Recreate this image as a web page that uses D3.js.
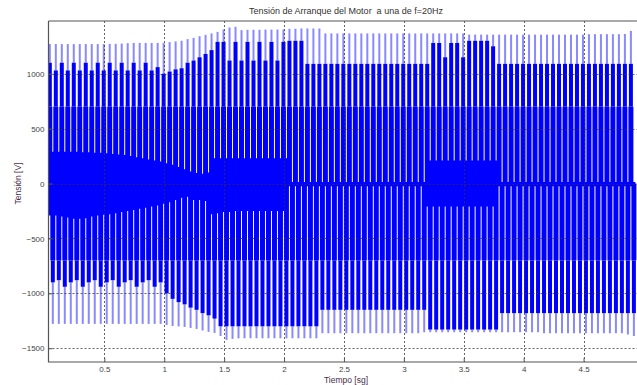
<!DOCTYPE html>
<html><head><meta charset="utf-8">
<script src="https://cdn.jsdelivr.net/npm/d3@7"></script>
<style>body{margin:0;background:#fff;}svg{display:block;font-family:"Liberation Sans",Arial,sans-serif;}</style>
</head><body>
<svg id="c" width="637" height="385"></svg>
<script>
const titleText = "Tensión de Arranque del Motor  a una de f=20Hz";
const xLabel = "Tiempo [sg]";
const yLabel = "Tensión [V]";
const xTicks = [0.5, 1, 1.5, 2, 2.5, 3, 3.5, 4, 4.5];
const yTicks = [-1500, -1000, -500, 0, 500, 1000];
const fundamentalHz = 20;
const firstPulse = 0.045;

// positive peak per fundamental period (V)
const upperPeak = [1270,1270,1270,1270,1270,1270,1270,1270,1270,1270,1272,1272,1275,1278,1280,1280,1280,1280,1280,1281,
  1288,1294,1300,1315,1327,1342,1354,1367,1381,1403,1421,1427,1397,1400,1400,1400,1402,1402,1402,1403,
  1409,1409,1412,1412,1412,1412,1367,1367,1367,1367,1367,1367,1367,1367,1367,1367,1367,1367,1367,1367,
  1367,1367,1367,1367,1367,1367,1367,1367,1367,1367,1356,1356,1356,1356,1356,1356,1356,1356,1356,1356,
  1356,1356,1356,1356,1356,1356,1356,1356,1356,1356,1360,1360,1360,1360,1360,1360,1362,1390];
// negative peak per fundamental period (V)
const lowerPeak = [-1278,-1278,-1278,-1278,-1278,-1278,-1278,-1278,-1278,-1278,-1278,-1278,-1278,-1278,-1278,-1278,-1278,-1278,-1278,-1288,
  -1297,-1301,-1306,-1315,-1324,-1338,-1351,-1360,-1388,-1424,-1415,-1410,-1409,-1409,-1409,-1409,-1409,-1409,-1409,-1409,
  -1409,-1409,-1409,-1409,-1409,-1363,-1363,-1363,-1363,-1363,-1363,-1363,-1363,-1363,-1363,-1363,-1363,-1363,-1363,-1363,
  -1363,-1363,-1354,-1354,-1354,-1354,-1354,-1354,-1354,-1354,-1354,-1354,-1354,-1354,-1354,-1354,-1354,-1354,-1354,-1354,
  -1354,-1354,-1363,-1363,-1363,-1363,-1363,-1363,-1363,-1363,-1363,-1363,-1363,-1363,-1363,-1363,-1375,-1388];
// level reached by the dense (dark) part of each positive pulse
const upperDark = [1100,1030,1100,1030,1100,1030,1100,1030,1100,1030,1100,1030,1100,1030,1100,1030,1100,1030,1060,1000,
  1020,1040,1050,1100,1120,1150,1180,1215,1290,1290,1120,1290,1120,1290,1120,1290,1120,1290,1120,1290,
  1300,1300,1300,1090,1090,1090,1090,1090,1090,1090,1090,1090,1090,1090,1090,1090,1090,1090,1090,1090,
  1090,1090,1090,1090,1280,1280,1150,1280,1280,1150,1300,1300,1300,1300,1250,1090,1090,1090,1090,1090,
  1090,1090,1090,1090,1090,1090,1090,1090,1090,1090,1090,1090,1090,1090,1090,1090,1090,1090];
const lowerDark = [-900,-880,-940,-900,-880,-940,-900,-880,-940,-900,-880,-940,-900,-880,-940,-900,-880,-940,-900,-1000,
  -1050,-1080,-1100,-1130,-1150,-1180,-1200,-1230,-1300,-1300,-1300,-1300,-1300,-1300,-1300,-1300,-1300,-1300,-1300,-1300,
  -1300,-1300,-1300,-1300,-1300,-1150,-1150,-1150,-1150,-1150,-1150,-1150,-1150,-1150,-1150,-1150,-1150,-1150,-1150,-1150,
  -1150,-1150,-1150,-1330,-1330,-1330,-1330,-1330,-1330,-1330,-1330,-1330,-1330,-1330,-1330,-1180,-1180,-1180,-1180,-1180,
  -1180,-1180,-1180,-1180,-1180,-1180,-1180,-1180,-1180,-1180,-1180,-1180,-1180,-1180,-1180,-1180,-1180,-1180];
// solid core band around zero
const coreTop = [290,290,290,290,290,285,285,280,280,275,270,265,260,250,240,230,220,210,200,185,
  170,150,130,110,95,90,100,230,230,230,230,230,230,230,230,230,230,230,230,230,
  15,15,15,15,15,15,15,15,15,15,15,15,15,15,15,15,15,15,15,15,
  15,15,15,210,210,210,210,210,210,210,210,210,210,210,210,15,15,15,15,15,
  15,15,15,15,15,15,15,15,15,15,15,15,15,15,15,15,15,15];
const coreBottom = [-290,-290,-300,-310,-320,-320,-315,-300,-290,-285,-280,-270,-260,-250,-240,-230,-220,-210,-200,-185,
  -170,-150,-130,-120,-150,-150,-160,-280,-270,-260,-260,-250,-250,-250,-250,-250,-250,-250,-250,-250,
  -25,-25,-25,-25,-25,-25,-25,-25,-25,-25,-25,-25,-25,-25,-25,-25,-25,-25,-25,-25,
  -25,-25,-25,-210,-210,-210,-210,-210,-210,-210,-210,-210,-210,-210,-210,-25,-25,-25,-25,-25,
  -25,-25,-25,-25,-25,-25,-25,-25,-25,-25,-25,-25,-25,-25,-25,-25,-25,-25];

const m = {left: 48.5, right: 637, top: 21, bottom: 362};
const svg = d3.select("#c");
const x = d3.scaleLinear().domain([0.034, 4.946]).range([m.left, m.right]);
const y = d3.scaleLinear().domain([-1625, 1480]).range([m.bottom, m.top]);

const period = 1 / fundamentalHz;
const pulses = upperPeak.map((p, i) => ({
  t: firstPulse + i * period,
  up: p, lo: lowerPeak[i], ud: upperDark[i], ld: lowerDark[i], ct: coreTop[i], cb: coreBottom[i]
}));

svg.append("defs").append("clipPath").attr("id", "clip")
  .append("rect").attr("x", m.left).attr("y", m.top).attr("width", m.right - m.left).attr("height", m.bottom - m.top);
const g = svg.append("g").attr("clip-path", "url(#clip)");

const blue = "#0000ff", light = "#8a8aff";

// core band
const coreArea = d3.area().curve(d3.curveStepAfter)
  .x(d => x(d.t - period / 4)).y0(d => y(d.cb)).y1(d => y(d.ct));
g.append("path").datum(pulses.concat([{...pulses[pulses.length-1], t: pulses[pulses.length-1].t + period}]))
  .attr("d", coreArea).attr("fill", blue);

// half pulses
const pg = g.append("g");
pulses.forEach(d => {
  const cx = x(d.t);
  pg.append("rect").attr("x", cx - 1).attr("width", 2).attr("y", y(d.up)).attr("height", y(d.ud) - y(d.up)).attr("fill", light);
  pg.append("rect").attr("x", cx - 2).attr("width", 4).attr("y", y(d.ud)).attr("height", y(700) - y(d.ud)).attr("fill", blue);
  pg.append("rect").attr("x", cx - 2.5).attr("width", 5).attr("y", y(700)).attr("height", y(0) - y(700)).attr("fill", blue);
  const nx = x(d.t + period / 2);
  pg.append("rect").attr("x", nx - 1).attr("width", 2).attr("y", y(d.ld)).attr("height", y(d.lo) - y(d.ld)).attr("fill", light);
  pg.append("rect").attr("x", nx - 2).attr("width", 4).attr("y", y(-700)).attr("height", y(d.ld) - y(-700)).attr("fill", blue);
  pg.append("rect").attr("x", nx - 2.5).attr("width", 5).attr("y", y(0)).attr("height", y(-700) - y(0)).attr("fill", blue);
});

// grid
const grid = svg.append("g").attr("stroke", "#333").attr("stroke-dasharray", "2,2").attr("stroke-width", 1).attr("opacity", 0.75);
xTicks.forEach(t => grid.append("line").attr("x1", Math.round(x(t)) + 0.5).attr("x2", Math.round(x(t)) + 0.5).attr("y1", m.top).attr("y2", m.bottom));
yTicks.forEach(v => grid.append("line").attr("y1", Math.round(y(v)) + 0.5).attr("y2", Math.round(y(v)) + 0.5).attr("x1", m.left).attr("x2", m.right));

// frame
svg.append("path").attr("d", `M${m.left},${m.top}H${m.right}M${m.left},${m.top}V${m.bottom}H${m.right}`)
  .attr("fill", "none").attr("stroke", "#555").attr("stroke-width", 1.2);

// axes
const xa = svg.append("g").attr("transform", `translate(0,${m.bottom})`)
  .call(d3.axisBottom(x).tickValues(xTicks).tickSize(-4).tickPadding(4).tickFormat(d3.format("")));
const ya = svg.append("g").attr("transform", `translate(${m.left},0)`)
  .call(d3.axisLeft(y).tickValues(yTicks).tickSize(-4).tickPadding(4).tickFormat(d3.format("")));
[xa, ya].forEach(a => {
  a.select(".domain").remove();
  a.selectAll("line").attr("stroke", "#555");
  a.selectAll("text").attr("font-size", 8).attr("fill", "#444").attr("font-family", "Liberation Sans, Arial, sans-serif");
});

svg.append("text").attr("x", 346).attr("y", 13.5).attr("text-anchor", "middle").attr("font-size", 9).attr("fill", "#333")
  .style("white-space", "pre").text(titleText);
svg.append("text").attr("x", 346).attr("y", 382.5).attr("text-anchor", "middle").attr("font-size", 8.5).attr("fill", "#4a2d4a").text(xLabel);
svg.append("text").attr("transform", `translate(20.5,${y(0)}) rotate(-90)`).attr("text-anchor", "middle").attr("font-size", 8.5).attr("fill", "#4a2d4a").text(yLabel);
</script>
</body></html>
